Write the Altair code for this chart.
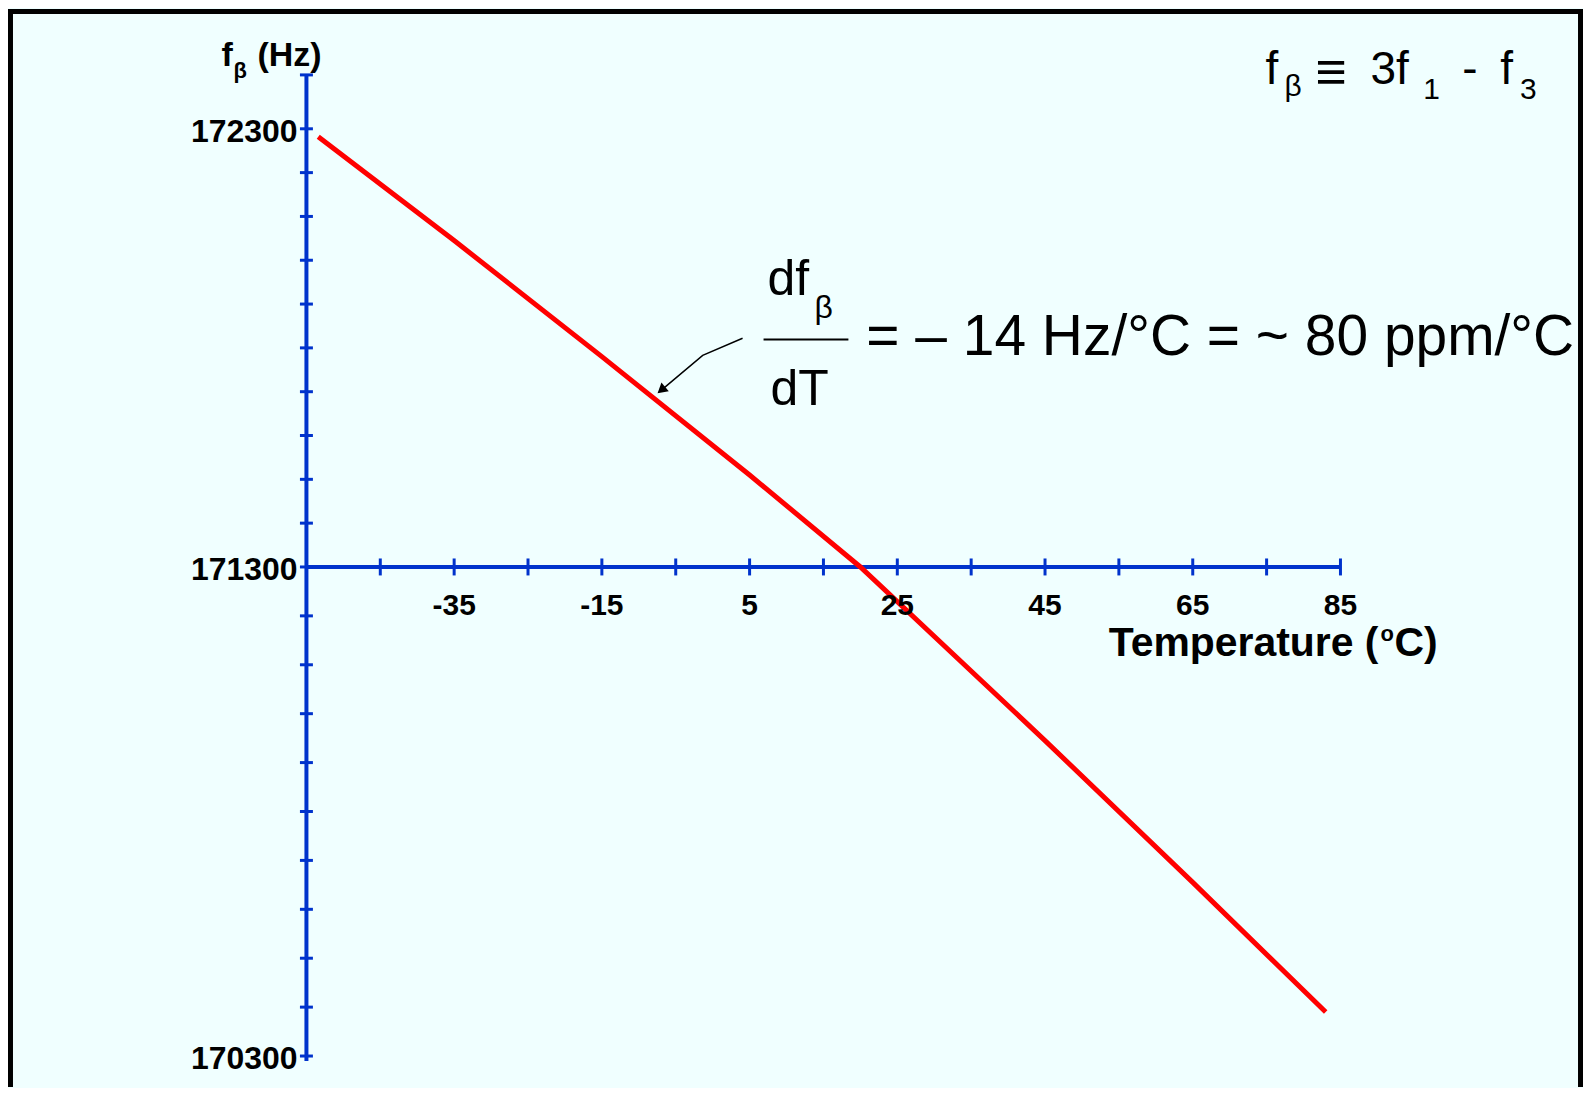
import altair as alt
import pandas as pd

# ---- data ----
temp_c = [-53.4, -35, -15, 5, 20, 45, 65, 83]
f_beta_hz = [172282, 172045, 171780, 171510, 171300, 170945, 170655, 170390]

x_tick_values = [-45, -35, -25, -15, -5, 5, 15, 25, 35, 45, 55, 65, 75, 85]
x_label_values = [-35, -15, 5, 25, 45, 65, 85]
y_tick_values = [170300, 170400, 170500, 170600, 170700, 170800, 170900, 171000,
                 171100, 171200, 171300, 171400, 171500, 171600, 171700, 171800,
                 171900, 172000, 172100, 172200, 172300, 172423]
y_label_values = [170300, 171300, 172300]

x_axis_start, x_axis_end = -55, 85
y_axis_bottom, y_axis_top = 170290, 172423
y_cross = 171300

# arrow of the annotation (data units)
arrow_t = [4.05, -1.35, -6.78]
arrow_hz = [171822, 171783, 171706]

BLUE = "#0033CC"
FONT = "Liberation Sans"

xs = alt.Scale(domain=[-55, 85], range=[299, 1335], nice=False, zero=False)
ys = alt.Scale(domain=[170300, 171300, 172300], range=[1049, 559, 120], nice=False, zero=False)


def X(field="T"):
    return alt.X(f"{field}:Q", scale=xs, axis=None)


def Y(field="Hz"):
    return alt.Y(f"{field}:Q", scale=ys, axis=None)


def label(text, t, hz, size, bold=False, align="left", baseline="alphabetic"):
    df = pd.DataFrame({"T": [t], "Hz": [hz], "label": [text]})
    return alt.Chart(df).mark_text(
        align=align, baseline=baseline, fontSize=size,
        fontWeight="bold" if bold else "normal", font=FONT, color="black"
    ).encode(x=X(), y=Y(), text="label:N")


# frame (top, left, right)
frame_df = pd.DataFrame({"a": [0]})
frame = (
    alt.Chart(frame_df).mark_rule(color="black", strokeWidth=5).encode(
        x=alt.value(0), x2=alt.value(1578), y=alt.value(2.5))
    + alt.Chart(frame_df).mark_rule(color="black", strokeWidth=5).encode(
        x=alt.value(2.5), y=alt.value(0), y2=alt.value(1080))
    + alt.Chart(frame_df).mark_rule(color="black", strokeWidth=5).encode(
        x=alt.value(1575.5), y=alt.value(0), y2=alt.value(1080))
)

# axes
y_axis = alt.Chart(pd.DataFrame({"T": [x_axis_start], "Hz": [y_axis_bottom], "Hz2": [y_axis_top]})).mark_rule(
    color=BLUE, strokeWidth=4).encode(x=X(), y=Y(), y2="Hz2:Q")
x_axis = alt.Chart(pd.DataFrame({"T": [x_axis_start], "T2": [x_axis_end], "Hz": [y_cross]})).mark_rule(
    color=BLUE, strokeWidth=4).encode(x=X(), x2="T2:Q", y=Y())

y_ticks = alt.Chart(pd.DataFrame({"T": [x_axis_start] * len(y_tick_values), "Hz": y_tick_values})).mark_tick(
    orient="horizontal", color=BLUE, size=13, thickness=3, opacity=1).encode(x=X(), y=Y())
x_ticks = alt.Chart(pd.DataFrame({"T": x_tick_values, "Hz": [y_cross] * len(x_tick_values)})).mark_tick(
    orient="vertical", color=BLUE, size=17, thickness=3, opacity=1).encode(x=X(), y=Y())

y_labels = alt.Chart(pd.DataFrame({"T": [x_axis_start] * 3, "Hz": y_label_values,
                                   "label": [str(v) for v in y_label_values]})).mark_text(
    align="right", baseline="middle", dx=-9, dy=3, fontSize=32, fontWeight="bold", font=FONT, color="black"
).encode(x=X(), y=Y(), text="label:N")

x_labels = alt.Chart(pd.DataFrame({"T": x_label_values, "Hz": [y_cross] * len(x_label_values),
                                   "label": [str(v) for v in x_label_values]})).mark_text(
    align="center", baseline="middle", dy=39, fontSize=30, fontWeight="bold", font=FONT, color="black"
).encode(x=X(), y=Y(), text="label:N")

# data line
line = alt.Chart(pd.DataFrame({"T": temp_c, "Hz": f_beta_hz})).mark_line(
    color="#FF0000", strokeWidth=5).encode(x=X(), y=Y())

# axis titles
titles = (
    label("f", -66.49, 172444, 34, bold=True)
    + label("β", -64.86, 172416, 22, bold=True)
    + label("(Hz)", -61.62, 172444, 34, bold=True)
    + label("Temperature (", 90.14, 171118, 41, bold=True, align="right")
    + label("o", 90.41, 171148, 22, bold=True)
    + label("C)", 92.30, 171118, 41, bold=True)
)

# definition at top right
definition = (
    label("f", 74.86, 172402, 46)
    + label("β", 77.43, 172375, 30)
    + label("≡", 81.6, 172389, 54)
    + label("3f", 89.05, 172402, 46)
    + label("1", 96.22, 172368, 30)
    + label("-", 101.49, 172402, 46)
    + label("f", 106.62, 172402, 46)
    + label("3", 109.32, 172368, 30)
)

# slope annotation
bar = alt.Chart(pd.DataFrame({"T": [6.89], "T2": [18.38], "Hz": [171819]})).mark_rule(
    color="black", strokeWidth=2).encode(x=X(), x2="T2:Q", y=Y())
slope = (
    label("df", 7.43, 171920, 50)
    + label("β", 13.78, 171869, 32)
    + label("dT", 7.84, 171669, 50)
    + label("= – 14 Hz/°C = ~ 80 ppm/°C", 20.81, 171783, 57)
    + bar
)

arrow_line = alt.Chart(pd.DataFrame({"T": arrow_t, "Hz": arrow_hz, "o": [0, 1, 2]})).mark_line(
    color="black", strokeWidth=1.5).encode(x=X(), y=Y(), order="o:O")
arrow_head = alt.Chart(pd.DataFrame({"T": [arrow_t[-1]], "Hz": [arrow_hz[-1]]})).mark_point(
    shape="triangle", filled=True, size=130, angle=230, color="black", opacity=1).encode(x=X(), y=Y())

chart = alt.layer(
    frame, y_axis, x_axis, y_ticks, x_ticks, line, y_labels, x_labels,
    titles, definition, slope, arrow_line, arrow_head
).properties(
    width=1578, height=1080,
    autosize=alt.AutoSizeParams(type="none"),
    padding=0,
    background="#F0FFFF",
).configure_view(stroke="transparent")

chart.save("out.html", embed_options={"renderer": "svg", "actions": False})
